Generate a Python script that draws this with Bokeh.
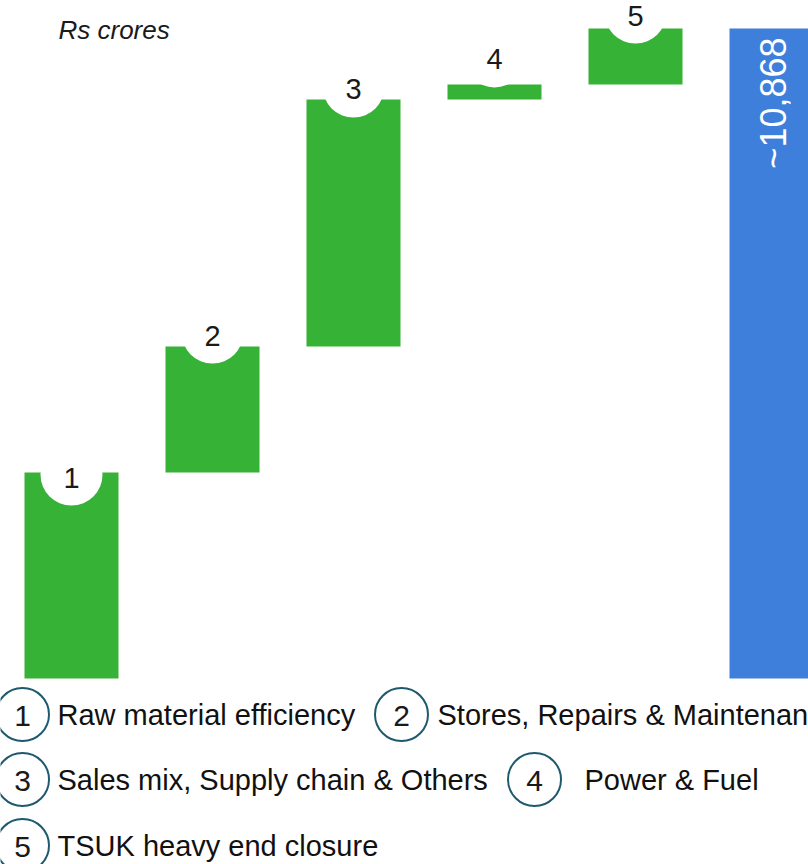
import math
from bokeh.plotting import figure
from bokeh.models import Range1d, ColumnDataSource
from bokeh.core.properties import value
from bokeh.embed import file_html
from bokeh.resources import INLINE

# ---- data ----
steps = ["1", "2", "3", "4", "5"]
deltas = [3444, 2107, 4130, 251, 936]
total_value = 10868
total_label = "~10,868"
legend_numbers = ["1", "2", "3", "4", "5"]
legend_labels = [
    "Raw material efficiency",
    "Stores, Repairs & Maintenance",
    "Sales mix, Supply chain & Others",
    "Power & Fuel",
    "TSUK heavy end closure",
]
unit_label = "Rs crores"

# ---- styling ----
GREEN = "#36b236"
BLUE = "#3e7fdb"
TEAL = "#1d5a6e"
FONT = "Liberation Sans"
W, H = 808, 864

# pixel <-> data helpers (layout only)
X0, DX = 71.0, 141.0
Y0, YTOP = 678.0, 28.0
YPX = total_value / (Y0 - YTOP)


def xd(px):
    return (px - X0) / DX


def yd(py):
    return (Y0 - py) * YPX


p = figure(width=W, height=H, output_backend="svg", toolbar_location=None,
           x_range=Range1d(xd(0), xd(W)), y_range=Range1d(yd(H), yd(0)),
           min_border=0, outline_line_color=None)
p.axis.visible = False
p.grid.visible = False
p.background_fill_color = "white"
p.border_fill_color = "white"

# waterfall bars
bottoms, tops = [], []
acc = 0
for d in deltas:
    bottoms.append(acc)
    acc += d
    tops.append(acc)
xs = list(range(len(deltas)))
src = ColumnDataSource(dict(x=xs, bottom=bottoms, top=tops))
p.vbar(x="x", bottom="bottom", top="top", width=94 / DX, source=src,
       fill_color=GREEN, line_color=None)
p.vbar(x=[len(deltas)], bottom=[0], top=[total_value], width=94 / DX,
       fill_color=BLUE, line_color=None)

# label bubbles (offset above the bar top, in px)
label_offset_px = [-2, 14, 13, 28, 16]
cy = [t + off * YPX for t, off in zip(tops, label_offset_px)]
p.scatter(x=xs, y=cy, size=62, marker="circle", fill_color="white",
          line_color=None)
p.text(x=xs, y=[c - 3 * YPX for c in cy], text=steps, text_align="center",
       text_baseline="middle", text_font=value(FONT), text_font_size="29px",
       text_color="#1a1a1a")

# total label (rotated)
p.text(x=[len(deltas) - 3 / DX], y=[yd(37)], text=[total_label], angle=math.pi / 2,
       text_align="right", text_baseline="middle", text_font=value(FONT),
       text_font_size="36px", text_color="white")

# unit label
p.text(x=[xd(58)], y=[yd(29)], text=[unit_label], text_align="left",
       text_baseline="middle", text_font=value(FONT), text_font_size="26px",
       text_font_style="italic", text_color="#1a1a1a")

# legend
circ_pos = [(22, 714), (401, 714), (22, 779), (534, 779), (22, 845)]
text_pos = [(57, 714), (437, 714), (57, 779), (584, 779), (57, 845)]
p.scatter(x=[xd(a) for a, b in circ_pos], y=[yd(b) for a, b in circ_pos], size=53,
          marker="circle", fill_color=None, line_color=TEAL, line_width=2)
p.text(x=[xd(a) for a, b in circ_pos], y=[yd(b + 1) for a, b in circ_pos],
       text=legend_numbers, text_align="center", text_baseline="middle",
       text_font=value(FONT), text_font_size="30px", text_color="#1a1a1a")
p.text(x=[xd(a) for a, b in text_pos], y=[yd(b) for a, b in text_pos],
       text=legend_labels, text_align="left", text_baseline="middle",
       text_font=value(FONT), text_font_size="29px", text_color="#111111")

html = file_html(p, INLINE)
html = html.replace("<head>", "<head><style>html,body{margin:0;padding:0;overflow:hidden;}</style>", 1)
open("out.html", "w").write(html)
